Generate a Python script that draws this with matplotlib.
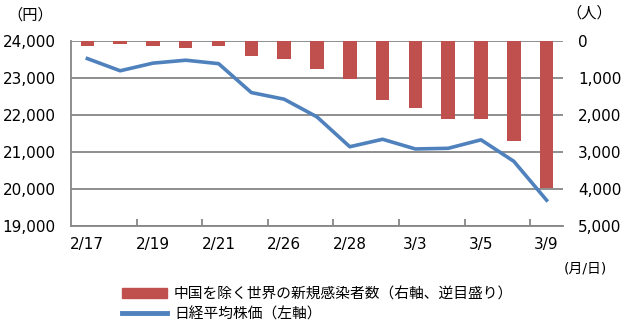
import matplotlib
matplotlib.use('Agg')
import matplotlib.pyplot as plt
from matplotlib.patches import Patch
from matplotlib.lines import Line2D

plt.rcParams['font.family'] = ['DejaVu Sans', 'Noto Sans CJK JP']
jp = ['Noto Sans CJK JP', 'DejaVu Sans']

dates = ['2/17', '2/18', '2/19', '2/20', '2/21', '2/25', '2/26', '2/27',
         '2/28', '3/2', '3/3', '3/4', '3/5', '3/6', '3/9']
nikkei = [23523, 23194, 23400, 23479, 23386, 22605, 22426, 21948,
          21142, 21344, 21082, 21100, 21329, 20749, 19698]
cases = [127, 73, 127, 180, 127, 397, 495, 757,
         1027, 1595, 1802, 2117, 2117, 2703, 3982]

left_ticks = [19000, 20000, 21000, 22000, 23000, 24000]
right_ticks = [0, 1000, 2000, 3000, 4000, 5000]

bar_color = '#C0504D'
line_color = '#4F81BD'
grid_color = '#868686'

fig = plt.figure(figsize=(6.28, 3.3), dpi=100)
ax = fig.add_axes([0.113, 0.315, 0.7835, 0.561])
ax2 = ax.twinx()

x = list(range(len(dates)))

# bars on right axis (inverted), behind the line
ax2.bar(x, cases, width=0.41, color=bar_color, zorder=2)
ax2.set_ylim(5000, 0)
ax2.set_yticks(right_ticks)
ax2.set_yticklabels([f'{v:,}' for v in right_ticks])
ax2.grid(axis='y', color=grid_color, lw=1.3, zorder=0)
ax2.set_axisbelow(True)
ax2.tick_params(axis='y', length=0, pad=11, labelsize=11)

ax.plot(x, nikkei, color=line_color, lw=2.6, zorder=3)
ax.set_ylim(19000, 24000)
ax.set_yticks(left_ticks)
ax.set_yticklabels([f'{v:,}' for v in left_ticks])
ax.tick_params(axis='y', length=0, pad=11, labelsize=11)
ax.set_zorder(ax2.get_zorder() + 1)
ax.patch.set_visible(False)

ax.set_xlim(-0.5, len(dates) - 0.5)
ax.set_xticks(x[::2])
ax.set_xticklabels(dates[::2])
ax.set_xticks([i + 0.5 for i in range(-1, len(dates), 2)][1:], minor=True)
ax.tick_params(axis='x', which='major', length=0, pad=8, labelsize=11)
ax.tick_params(axis='x', which='minor', direction='in', length=5,
               color=grid_color, width=1.3)

for a in (ax, ax2):
    for s in ('top', 'right'):
        a.spines[s].set_visible(False)
    for s in ('left', 'bottom'):
        a.spines[s].set_color(grid_color)
        a.spines[s].set_linewidth(1.3)
ax2.spines['left'].set_visible(False)
ax2.spines['bottom'].set_visible(False)

fig.text(0.012, 0.955, '（円）', fontsize=11, va='center', family=jp)
fig.text(0.902, 0.96, '（人）', fontsize=11, va='center', family=jp)
fig.text(0.898, 0.185, '(月/日)', fontsize=10, va='center')

handles = [Patch(color=bar_color), Line2D([], [], color=line_color, lw=3.5)]
labels = ['中国を除く世界の新規感染者数（右軸、逆目盛り）', '日経平均株価（左軸）']
fig.legend(handles, labels, loc='upper left', bbox_to_anchor=(0.194, 0.13),
           frameon=False, prop={'family': jp, 'size': 10.6},
           handlelength=3.1, handleheight=0.6,
           handletextpad=0.45, labelspacing=0.4, borderpad=0, borderaxespad=0)

fig.savefig('out.png', dpi=100)
